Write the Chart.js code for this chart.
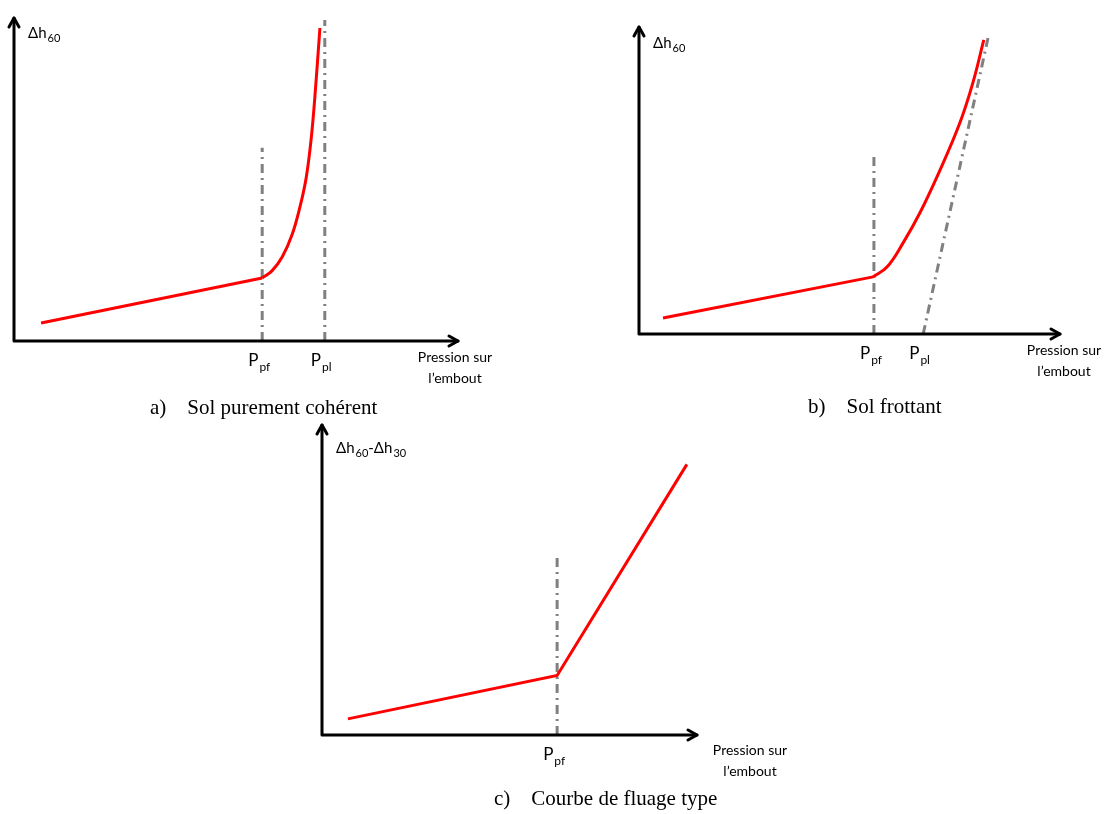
<!DOCTYPE html>
<html>
<head>
<meta charset="utf-8">
<script src="https://cdn.jsdelivr.net/npm/chart.js@4/dist/chart.umd.min.js"></script>
<style>
    body { margin: 0; background: #fff; width: 1109px; height: 814px; position: relative; overflow: hidden; }
    .wrap { position: absolute; }
    .cap { position: absolute; font-family: "Liberation Serif", "DejaVu Serif", serif; font-size: 21px; color: #000; white-space: pre; }
</style>
</head>
<body>
<div class="wrap" style="left:0;top:0"><canvas id="ca" width="520" height="400"></canvas></div>
<div class="wrap" style="left:600px;top:0"><canvas id="cb" width="509" height="400"></canvas></div>
<div class="wrap" style="left:280px;top:410px"><canvas id="cc" width="560" height="380"></canvas></div>
<div class="cap" style="left:150px;top:395px">a)    Sol purement cohérent</div>
<div class="cap" style="left:808px;top:394px">b)    Sol frottant</div>
<div class="cap" style="left:494px;top:786px">c)    Courbe de fluage type</div>
<script>
// values, axes in % of the axis length
// a) sol purement cohérent
const aLin = [[6.1, 5.6], [55.9, 19.5]];
const aCurve = [[55.9, 19.5], [58.1, 21.7], [60.4, 26.0], [62.6, 32.8], [64.4, 41.5],
                [65.8, 50.5], [66.9, 62.2], [67.8, 76.2], [68.9, 96.9]];
const aPpf = [[55.9, 0], [55.9, 59.8]];
const aPpl = [[70.0, 0], [70.0, 99.4]];

// b) sol frottant
const bLin = [[5.7, 5.2], [55.6, 18.6]];
const bCurve = [[55.6, 18.6], [58.9, 21.8], [62.7, 29.6], [66.7, 39.4], [71.5, 53.4],
                [76.2, 68.7], [79.3, 81.8], [81.9, 95.8]];
const bPpf = [[55.8, 0], [55.8, 59.0]];
const bPpl = [[67.5, 0], [82.9, 96.4]];

// c) courbe de fluage
const cCurve = [[6.9, 5.2], [62.7, 19.2], [97.3, 87.3]];
const cPpf = [[62.7, 0], [62.7, 58.4]];

const FONT = 'Lato, "Open Sans", sans-serif';

function pts(arr) {
    return arr.map(p => ({x: p[0], y: p[1]}));
}

function drawSub(ctx, main, sub, x, y, size) {
    ctx.font = size + 'px ' + FONT;
    ctx.fillText(main, x, y);
    let w = ctx.measureText(main).width;
    ctx.font = Math.round(size * 0.72) + 'px ' + FONT;
    ctx.fillText(sub, x + w + 1, y + size * 0.35);
    return w + 1 + ctx.measureText(sub).width;
}

// axes with arrows + labels
const sketchAxes = {
    id: 'sketchAxes',
    afterDraw(chart, args, opts) {
        let ctx = chart.ctx;
        let a = chart.chartArea;
        let xs = chart.scales.x;
        ctx.save();
        ctx.strokeStyle = '#000';
        ctx.lineWidth = 3;
        ctx.lineCap = 'round';
        ctx.lineJoin = 'round';
        ctx.beginPath();
        ctx.moveTo(a.left, a.top);
        ctx.lineTo(a.left, a.bottom);
        ctx.lineTo(a.right, a.bottom);
        ctx.stroke();
        // arrow heads
        ctx.beginPath();
        ctx.moveTo(a.left - 5, a.top + 9);
        ctx.lineTo(a.left, a.top);
        ctx.lineTo(a.left + 5, a.top + 9);
        ctx.moveTo(a.right - 9, a.bottom - 5);
        ctx.lineTo(a.right, a.bottom);
        ctx.lineTo(a.right - 9, a.bottom + 5);
        ctx.stroke();

        ctx.fillStyle = '#000';
        ctx.textBaseline = 'middle';
        ctx.textAlign = 'left';
        // y title
        let tx = a.left + 14, ty = a.top + opts.titleDy;
        let w = drawSub(ctx, 'Δh', '60', tx, ty, 15);
        if (opts.title2) {
            ctx.font = '15px ' + FONT;
            ctx.fillText('-', tx + w, ty);
            let w2 = ctx.measureText('-').width;
            drawSub(ctx, 'Δh', '30', tx + w + w2, ty, 15);
        }
        // x title
        ctx.font = '14px ' + FONT;
        ctx.textAlign = 'center';
        let px = a.right + opts.xTitleDx;
        ctx.fillText('Pression sur', px, a.bottom + opts.xTitleDy);
        ctx.fillText('l\u2019embout', px, a.bottom + opts.xTitleDy + 21);
        // P labels under axis
        ctx.textAlign = 'left';
        opts.marks.forEach(m => {
            let x = xs.getPixelForValue(m.v);
            drawSub(ctx, 'P', m.sub, x - 14, a.bottom + 20, 17);
        });
        ctx.restore();
    }
};

function red(data, smooth) {
    return {
        data: pts(data), borderColor: '#ff0000', borderWidth: 3, pointRadius: 0,
        tension: smooth ? 0.4 : 0, order: 0
    };
}

function dash(data) {
    return {
        data: pts(data), borderColor: '#808080', borderWidth: 3, pointRadius: 0,
        borderDash: [9, 5, 2, 5], order: 1
    };
}

function makeChart(id, datasets, pad, axOpts) {
    return new Chart(document.getElementById(id), {
        type: 'line',
        data: {datasets: datasets},
        options: {
            responsive: false,
            animation: false,
            layout: {padding: pad},
            plugins: {legend: {display: false}, tooltip: {enabled: false}, sketchAxes: axOpts},
            scales: {
                x: {type: 'linear', min: 0, max: 100, display: false},
                y: {type: 'linear', min: 0, max: 100, display: false}
            }
        },
        plugins: [sketchAxes]
    });
}

makeChart('ca', [red(aLin, false), red(aCurve, true), dash(aPpf), dash(aPpl)],
    {left: 14, top: 18, right: 62, bottom: 59},
    {titleDy: 15, xTitleDx: -3, xTitleDy: 16, marks: [{v: 55.9, sub: 'pf'}, {v: 70.0, sub: 'pl'}]});

makeChart('cb', [red(bLin, false), red(bCurve, true), dash(bPpf), dash(bPpl)],
    {left: 39, top: 27, right: 49, bottom: 66},
    {titleDy: 16, xTitleDx: 4, xTitleDy: 16, marks: [{v: 55.8, sub: 'pf'}, {v: 67.5, sub: 'pl'}]});

makeChart('cc', [red(cCurve, false), dash(cPpf)],
    {left: 42, top: 15, right: 143, bottom: 55},
    {titleDy: 23, title2: true, xTitleDx: 53, xTitleDy: 15, marks: [{v: 62.7, sub: 'pf'}]});
</script>
</body>
</html>
